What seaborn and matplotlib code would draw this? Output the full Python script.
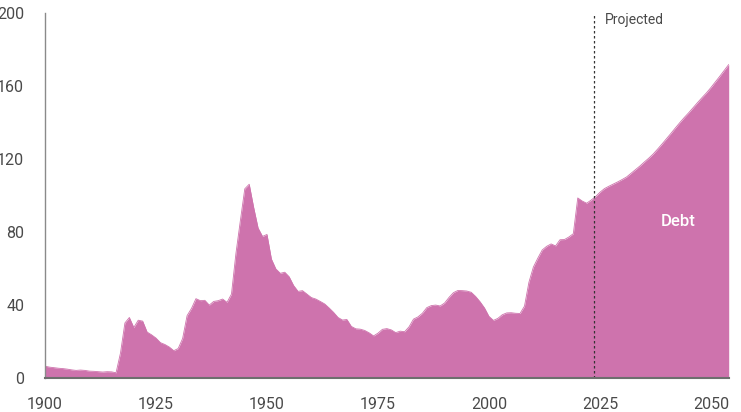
import numpy as np
import pandas as pd
import matplotlib
matplotlib.use("Agg")
import matplotlib.pyplot as plt
import seaborn as sns

# ---- data (debt held by the public, percent of GDP) ----
years = list(range(1900, 2055))
debt_hist = [
    6.3, 5.8, 5.5, 5.2, 5.0, 4.7, 4.3, 4.0, 4.2, 4.0,          # 1900-1909
    3.6, 3.5, 3.3, 3.1, 3.3, 3.2, 2.7, 13.5, 30.0, 33.0,       # 1910-1919
    27.5, 31.5, 31.0, 25.0, 23.5, 21.7, 19.2, 18.2, 16.8, 14.8,  # 1920-1929
    16.0, 21.5, 34.0, 38.0, 43.3, 42.2, 42.4, 39.8, 41.8, 42.2,  # 1930-1939
    43.1, 41.3, 45.8, 68.0, 86.0, 103.5, 106.0, 93.3, 82.0, 77.4,  # 1940-1949
    78.5, 65.0, 59.6, 57.2, 57.8, 55.3, 50.5, 47.3, 47.7, 45.8,  # 1950-1959
    43.9, 43.1, 41.8, 40.4, 38.2, 35.8, 33.0, 31.6, 31.9, 28.1,  # 1960-1969
    26.8, 26.6, 25.9, 24.6, 22.9, 24.4, 26.5, 26.9, 26.2, 24.7,  # 1970-1979
    25.5, 25.2, 27.9, 32.1, 33.3, 35.3, 38.4, 39.5, 39.8, 39.3,  # 1980-1989
    40.9, 44.0, 46.6, 47.8, 47.7, 47.5, 46.8, 44.5, 41.6, 38.2,  # 1990-1999
    33.6, 31.4, 32.5, 34.5, 35.5, 35.6, 35.3, 35.2, 39.2, 52.3,  # 2000-2009
    60.6, 65.5, 70.0, 72.0, 73.3, 72.2, 75.6, 75.7, 77.1, 78.9,  # 2010-2019
    98.5, 96.8, 95.6, 97.3,                                      # 2020-2023
]
debt_proj = [
    99.2, 101.6, 103.6, 104.9, 106.1, 107.3,                     # 2024-2029
    108.6, 110.0, 112.0, 114.0, 116.0, 118.2, 120.3, 122.6, 125.3, 128.1,  # 2030-2039
    131.0, 133.9, 136.9, 139.8, 142.6, 145.2, 148.0, 150.8, 153.5, 156.1,  # 2040-2049
    159.0, 162.1, 165.2, 168.4, 171.6,                           # 2050-2054
]
y_ticks = [0, 40, 80, 120, 160, 200]
x_ticks = [1900, 1925, 1950, 1975, 2000, 2025, 2050]
projection_start = 2023.6
series_label = "Debt"
projected_label = "Projected"

df = pd.DataFrame({"year": years, "debt": debt_hist + debt_proj})

# ---- style ----
sns.set_theme(style="white")
plt.rcParams["font.family"] = ["Roboto", "DejaVu Sans"]

fill_color = "#CE73AD"
text_color = "#4a4a4a"

fig = plt.figure(figsize=(7.41, 4.12), dpi=100)
ax = fig.add_axes([45 / 741, 1 - 377.7 / 412, (728.7 - 45) / 741, (377.7 - 12.7) / 412])

sns.lineplot(data=df, x="year", y="debt", ax=ax, color=fill_color, linewidth=0.6)
ax.fill_between(df["year"], 0, df["debt"], color=fill_color, linewidth=0)

ax.axvline(projection_start, color="#333333", linewidth=0.9, linestyle=(0, (2, 2)))

ax.set_xlim(1900, 2054)
ax.set_ylim(0, 200)
ax.set_xticks(x_ticks)
ax.set_yticks(y_ticks)
ax.set_xlabel("")
ax.set_ylabel("")

ax.tick_params(axis="both", direction="in", length=5, width=1, color="#666666",
               labelcolor=text_color, labelsize=11.5)
ax.tick_params(axis="y", pad=15)
ax.tick_params(axis="x", pad=14)

for s in ["top", "right"]:
    ax.spines[s].set_visible(False)
ax.spines["left"].set_color("#8a8a8a")
ax.spines["left"].set_linewidth(1.0)
ax.spines["bottom"].set_color("#6e6e6e")
ax.spines["bottom"].set_linewidth(1.5)
ax.spines["bottom"].set_zorder(5)

ax.text(2026.0, 193.8, projected_label, color=text_color, fontsize=10,
        ha="left", va="baseline")
ax.text(2042.6, 83.1, series_label, color="white", fontsize=12, fontweight="medium",
        ha="center", va="baseline")

fig.savefig("out.png", dpi=100)
